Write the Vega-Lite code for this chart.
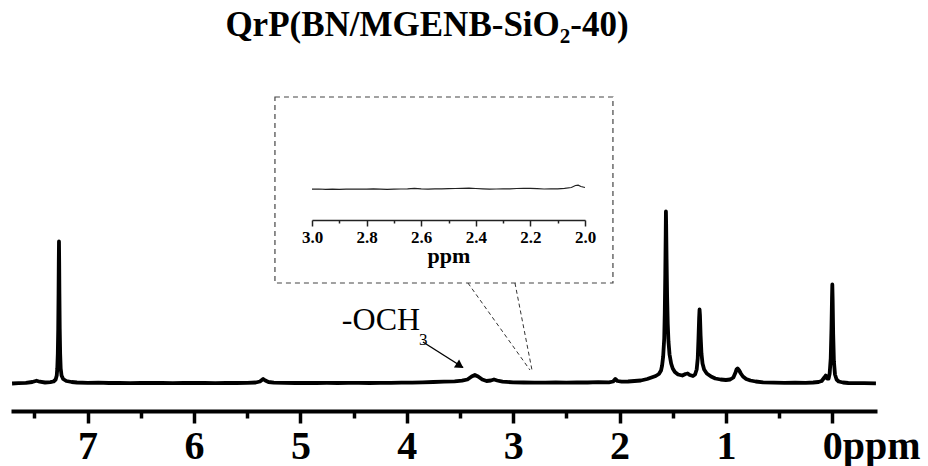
{
  "$schema": "https://vega.github.io/schema/vega-lite/v6.json",
  "width": 866,
  "height": 316,
  "autosize": "none",
  "padding": {"left": 11, "top": 95, "right": 51, "bottom": 55},
  "background": "white",
  "title": {
    "text": "QrP(BN/MGENB-SiO₂-40)",
    "font": "Liberation Serif",
    "fontSize": 35,
    "fontWeight": "bold",
    "color": "black",
    "anchor": "middle",
    "frame": "group",
    "dx": -17,
    "dy": -48
  },
  "config": {"view": {"stroke": null}},
  "datasets": {
    "spectrum": [
      {"ppm": 7.71, "i": 0.0}, {"ppm": 7.65, "i": 0.3}, {"ppm": 7.58, "i": 0.6}, {"ppm": 7.52, "i": 1.5},
      {"ppm": 7.48, "i": 2.8}, {"ppm": 7.45, "i": 1.8}, {"ppm": 7.40, "i": 1.0}, {"ppm": 7.35, "i": 1.3},
      {"ppm": 7.32, "i": 2.0}, {"ppm": 7.30, "i": 4.0}, {"ppm": 7.29, "i": 8}, {"ppm": 7.285, "i": 15},
      {"ppm": 7.28, "i": 30}, {"ppm": 7.276, "i": 55}, {"ppm": 7.273, "i": 90}, {"ppm": 7.271, "i": 120},
      {"ppm": 7.269, "i": 142}, {"ppm": 7.267, "i": 120}, {"ppm": 7.265, "i": 90}, {"ppm": 7.262, "i": 55},
      {"ppm": 7.258, "i": 30}, {"ppm": 7.253, "i": 15}, {"ppm": 7.245, "i": 8}, {"ppm": 7.23, "i": 4.5},
      {"ppm": 7.20, "i": 2.5}, {"ppm": 7.15, "i": 1.5}, {"ppm": 7.10, "i": 1.0}, {"ppm": 7.00, "i": 0.6},
      {"ppm": 6.90, "i": 0.8}, {"ppm": 6.80, "i": 0.5}, {"ppm": 6.70, "i": 0.7}, {"ppm": 6.60, "i": 0.4},
      {"ppm": 6.50, "i": 0.6}, {"ppm": 6.40, "i": 0.5}, {"ppm": 6.30, "i": 0.7}, {"ppm": 6.20, "i": 0.4},
      {"ppm": 6.10, "i": 0.6}, {"ppm": 6.00, "i": 0.5}, {"ppm": 5.90, "i": 0.7}, {"ppm": 5.80, "i": 0.4},
      {"ppm": 5.70, "i": 0.6}, {"ppm": 5.60, "i": 0.5}, {"ppm": 5.50, "i": 0.7}, {"ppm": 5.42, "i": 1.0},
      {"ppm": 5.38, "i": 2.0}, {"ppm": 5.35, "i": 4.5}, {"ppm": 5.33, "i": 3.0}, {"ppm": 5.30, "i": 1.5},
      {"ppm": 5.25, "i": 0.8}, {"ppm": 5.15, "i": 0.6}, {"ppm": 5.05, "i": 0.5}, {"ppm": 4.95, "i": 0.7},
      {"ppm": 4.85, "i": 0.5}, {"ppm": 4.75, "i": 0.6}, {"ppm": 4.65, "i": 0.5}, {"ppm": 4.55, "i": 0.7},
      {"ppm": 4.45, "i": 0.6}, {"ppm": 4.35, "i": 0.5}, {"ppm": 4.25, "i": 0.7}, {"ppm": 4.15, "i": 0.6},
      {"ppm": 4.05, "i": 0.8}, {"ppm": 3.95, "i": 0.9}, {"ppm": 3.85, "i": 1.2}, {"ppm": 3.75, "i": 1.5},
      {"ppm": 3.65, "i": 1.8}, {"ppm": 3.55, "i": 2.2}, {"ppm": 3.48, "i": 2.8}, {"ppm": 3.43, "i": 4.0},
      {"ppm": 3.39, "i": 7.0}, {"ppm": 3.36, "i": 8.5}, {"ppm": 3.33, "i": 7.0}, {"ppm": 3.29, "i": 4.0},
      {"ppm": 3.25, "i": 2.5}, {"ppm": 3.21, "i": 3.0}, {"ppm": 3.18, "i": 4.0}, {"ppm": 3.15, "i": 3.0},
      {"ppm": 3.10, "i": 1.8}, {"ppm": 3.00, "i": 1.2}, {"ppm": 2.90, "i": 1.0}, {"ppm": 2.80, "i": 0.8},
      {"ppm": 2.70, "i": 0.9}, {"ppm": 2.60, "i": 1.0}, {"ppm": 2.50, "i": 0.8}, {"ppm": 2.40, "i": 1.2},
      {"ppm": 2.30, "i": 1.0}, {"ppm": 2.20, "i": 1.3}, {"ppm": 2.10, "i": 1.2}, {"ppm": 2.06, "i": 2.0},
      {"ppm": 2.04, "i": 4.5}, {"ppm": 2.02, "i": 2.5}, {"ppm": 1.98, "i": 1.8}, {"ppm": 1.92, "i": 2.0},
      {"ppm": 1.86, "i": 2.5}, {"ppm": 1.80, "i": 3.0}, {"ppm": 1.74, "i": 4.5}, {"ppm": 1.70, "i": 6.0},
      {"ppm": 1.66, "i": 7.5}, {"ppm": 1.63, "i": 9.5}, {"ppm": 1.61, "i": 13}, {"ppm": 1.60, "i": 18},
      {"ppm": 1.59, "i": 27}, {"ppm": 1.58, "i": 45}, {"ppm": 1.575, "i": 70}, {"ppm": 1.570, "i": 110},
      {"ppm": 1.566, "i": 150}, {"ppm": 1.564, "i": 172}, {"ppm": 1.562, "i": 160}, {"ppm": 1.558, "i": 125},
      {"ppm": 1.553, "i": 88}, {"ppm": 1.547, "i": 60}, {"ppm": 1.540, "i": 42}, {"ppm": 1.530, "i": 29},
      {"ppm": 1.515, "i": 20}, {"ppm": 1.50, "i": 15}, {"ppm": 1.48, "i": 11.5}, {"ppm": 1.45, "i": 9},
      {"ppm": 1.41, "i": 8}, {"ppm": 1.38, "i": 9.5}, {"ppm": 1.36, "i": 10}, {"ppm": 1.34, "i": 8.5},
      {"ppm": 1.31, "i": 7.5}, {"ppm": 1.29, "i": 9}, {"ppm": 1.275, "i": 14}, {"ppm": 1.265, "i": 25},
      {"ppm": 1.258, "i": 45}, {"ppm": 1.252, "i": 65}, {"ppm": 1.248, "i": 74}, {"ppm": 1.244, "i": 68},
      {"ppm": 1.238, "i": 48}, {"ppm": 1.230, "i": 30}, {"ppm": 1.220, "i": 20}, {"ppm": 1.205, "i": 14},
      {"ppm": 1.18, "i": 10}, {"ppm": 1.14, "i": 7}, {"ppm": 1.10, "i": 5}, {"ppm": 1.05, "i": 4},
      {"ppm": 1.00, "i": 3.5}, {"ppm": 0.96, "i": 4}, {"ppm": 0.93, "i": 6}, {"ppm": 0.91, "i": 11},
      {"ppm": 0.90, "i": 14}, {"ppm": 0.89, "i": 15}, {"ppm": 0.875, "i": 13}, {"ppm": 0.86, "i": 10},
      {"ppm": 0.84, "i": 7}, {"ppm": 0.81, "i": 4.5}, {"ppm": 0.77, "i": 3}, {"ppm": 0.72, "i": 2},
      {"ppm": 0.65, "i": 1.2}, {"ppm": 0.55, "i": 0.8}, {"ppm": 0.45, "i": 0.6}, {"ppm": 0.35, "i": 0.8},
      {"ppm": 0.25, "i": 0.6}, {"ppm": 0.18, "i": 1.0}, {"ppm": 0.13, "i": 1.5}, {"ppm": 0.10, "i": 2.5},
      {"ppm": 0.075, "i": 6}, {"ppm": 0.062, "i": 8}, {"ppm": 0.05, "i": 5}, {"ppm": 0.035, "i": 5},
      {"ppm": 0.025, "i": 10}, {"ppm": 0.015, "i": 25}, {"ppm": 0.008, "i": 55}, {"ppm": 0.003, "i": 85},
      {"ppm": 0.0, "i": 99}, {"ppm": -0.003, "i": 85}, {"ppm": -0.008, "i": 50}, {"ppm": -0.015, "i": 22},
      {"ppm": -0.025, "i": 9}, {"ppm": -0.04, "i": 4}, {"ppm": -0.06, "i": 2}, {"ppm": -0.10, "i": 1.0},
      {"ppm": -0.15, "i": 0.5}, {"ppm": -0.22, "i": 0.3}, {"ppm": -0.30, "i": 0.4}, {"ppm": -0.41, "i": 0.2}
    ],
    "inset": [
      {"ppm": 3.000, "i": 0.8}, {"ppm": 2.975, "i": 1.0}, {"ppm": 2.950, "i": 0.7}, {"ppm": 2.925, "i": 0.9},
      {"ppm": 2.900, "i": 0.6}, {"ppm": 2.875, "i": 0.8}, {"ppm": 2.850, "i": 0.9}, {"ppm": 2.825, "i": 1.0},
      {"ppm": 2.800, "i": 0.8}, {"ppm": 2.775, "i": 1.1}, {"ppm": 2.750, "i": 0.9}, {"ppm": 2.725, "i": 0.7},
      {"ppm": 2.700, "i": 0.8}, {"ppm": 2.675, "i": 1.0}, {"ppm": 2.650, "i": 1.2}, {"ppm": 2.625, "i": 1.6},
      {"ppm": 2.600, "i": 1.1}, {"ppm": 2.575, "i": 0.9}, {"ppm": 2.550, "i": 1.1}, {"ppm": 2.525, "i": 1.2},
      {"ppm": 2.500, "i": 1.3}, {"ppm": 2.475, "i": 1.5}, {"ppm": 2.450, "i": 1.7}, {"ppm": 2.425, "i": 1.9},
      {"ppm": 2.400, "i": 1.5}, {"ppm": 2.375, "i": 1.2}, {"ppm": 2.350, "i": 0.9}, {"ppm": 2.325, "i": 1.0},
      {"ppm": 2.300, "i": 1.1}, {"ppm": 2.275, "i": 1.2}, {"ppm": 2.250, "i": 1.5}, {"ppm": 2.225, "i": 1.7},
      {"ppm": 2.200, "i": 1.6}, {"ppm": 2.175, "i": 1.3}, {"ppm": 2.150, "i": 1.0}, {"ppm": 2.125, "i": 1.1},
      {"ppm": 2.100, "i": 1.2}, {"ppm": 2.075, "i": 1.6}, {"ppm": 2.050, "i": 2.5}, {"ppm": 2.035, "i": 4.5},
      {"ppm": 2.025, "i": 4.8}, {"ppm": 2.015, "i": 3.5}, {"ppm": 2.000, "i": 2.5}
    ],
    "box": [{"x1": 5.239, "x2": 2.062, "y1": 100.5, "y2": 286.5}],
    "connectors": [
      {"xa": 3.425, "ya": 100.5, "xb": 2.842, "yb": 13.5},
      {"xa": 2.983, "ya": 100.5, "xb": 2.823, "yb": 13.5}
    ],
    "arrow": [{"xa": 3.848, "ya": 41.5, "xb": 3.47, "yb": 16.0}],
    "arrowhead": [{"x": 3.50, "y": 17.7}],
    "labels": [
      {"x": 4.61, "y": 53.5, "t": "-OCH", "s": "main"},
      {"x": 3.885, "y": 38.5, "t": "3", "s": "sub"}
    ]
  },
  "layer": [
    {
      "layer": [
        {
          "data": {"name": "spectrum"},
          "mark": {"type": "line", "color": "black", "strokeWidth": 3.8, "strokeJoin": "round", "interpolate": "linear"},
          "encoding": {
            "x": {
              "field": "ppm", "type": "quantitative",
              "scale": {"domain": [7.72, -0.42], "nice": false, "zero": false},
              "axis": {
                "title": null,
                "values": [7.5, 7, 6.5, 6, 5.5, 5, 4.5, 4, 3.5, 3, 2.5, 2, 1.5, 1, 0.5, 0],
                "labelExpr": "datum.value % 1 === 0 ? (datum.value === 0 ? '0ppm' : format(datum.value, 'd')) : ''",
                "labelFont": "Liberation Serif",
                "labelFontSize": 40,
                "labelFontWeight": "bold",
                "labelColor": "black",
                "labelPadding": 3,
                "labelFlush": false,
                "labelOverlap": false,
                "labelBound": false,
                "labelAlign": {"condition": {"test": "datum.value === 0", "value": "left"}, "value": "center"},
                "labelOffset": {"condition": {"test": "datum.value === 0", "value": -10}, "value": 0},
                "tickSize": {"condition": {"test": "datum.value % 1 === 0", "value": 12}, "value": 7},
                "tickWidth": 3.5,
                "tickColor": "black",
                "domainColor": "black",
                "domainWidth": 4,
                "grid": false
              }
            },
            "y": {"field": "i", "type": "quantitative", "scale": {"domain": [-27.5, 288.5], "nice": false, "zero": false}, "axis": null}
          }
        },
        {
          "data": {"name": "box"},
          "mark": {"type": "rect", "fill": null, "fillOpacity": 0, "stroke": "#444444", "strokeWidth": 1.2, "strokeDash": [5, 4]},
          "encoding": {
            "x": {"field": "x1", "type": "quantitative", "scale": {"domain": [7.72, -0.42], "nice": false, "zero": false}},
            "x2": {"field": "x2"},
            "y": {"field": "y1", "type": "quantitative", "scale": {"domain": [-27.5, 288.5], "nice": false, "zero": false}, "axis": null},
            "y2": {"field": "y2"}
          }
        },
        {
          "data": {"name": "connectors"},
          "mark": {"type": "rule", "stroke": "#333333", "strokeWidth": 1, "strokeDash": [4, 3]},
          "encoding": {
            "x": {"field": "xa", "type": "quantitative", "scale": {"domain": [7.72, -0.42], "nice": false, "zero": false}},
            "x2": {"field": "xb"},
            "y": {"field": "ya", "type": "quantitative", "scale": {"domain": [-27.5, 288.5], "nice": false, "zero": false}, "axis": null},
            "y2": {"field": "yb"}
          }
        },
        {
          "data": {"name": "arrow"},
          "mark": {"type": "rule", "stroke": "black", "strokeWidth": 1.4},
          "encoding": {
            "x": {"field": "xa", "type": "quantitative", "scale": {"domain": [7.72, -0.42], "nice": false, "zero": false}},
            "x2": {"field": "xb"},
            "y": {"field": "ya", "type": "quantitative", "scale": {"domain": [-27.5, 288.5], "nice": false, "zero": false}, "axis": null},
            "y2": {"field": "yb"}
          }
        },
        {
          "data": {"name": "arrowhead"},
          "mark": {"type": "point", "shape": "triangle-right", "filled": true, "color": "black", "size": 90, "angle": 33, "opacity": 1},
          "encoding": {
            "x": {"field": "x", "type": "quantitative", "scale": {"domain": [7.72, -0.42], "nice": false, "zero": false}},
            "y": {"field": "y", "type": "quantitative", "scale": {"domain": [-27.5, 288.5], "nice": false, "zero": false}, "axis": null}
          }
        },
        {
          "data": {"name": "labels"},
          "mark": {"type": "text", "font": "Liberation Serif", "align": "left", "baseline": "alphabetic", "color": "black"},
          "encoding": {
            "x": {"field": "x", "type": "quantitative", "scale": {"domain": [7.72, -0.42], "nice": false, "zero": false}},
            "y": {"field": "y", "type": "quantitative", "scale": {"domain": [-27.5, 288.5], "nice": false, "zero": false}, "axis": null},
            "text": {"field": "t"},
            "size": {"field": "s", "type": "nominal", "scale": {"domain": ["main", "sub"], "range": [32, 17]}, "legend": null}
          }
        }
      ]
    },
    {
      "data": {"name": "inset"},
      "mark": {"type": "line", "color": "#222222", "strokeWidth": 1.2},
      "encoding": {
        "x": {
          "field": "ppm", "type": "quantitative",
          "scale": {"domain": [2.0, 3.0], "range": [574, 301], "nice": false, "zero": false},
          "axis": {
            "orient": "bottom",
            "offset": -191,
            "title": "ppm",
            "titleFont": "Liberation Serif",
            "titleFontSize": 22,
            "titleFontWeight": "bold",
            "titleColor": "black",
            "titlePadding": 0,
            "values": [3.0, 2.9, 2.8, 2.7, 2.6, 2.5, 2.4, 2.3, 2.2, 2.1, 2.0],
            "labelExpr": "round(datum.value * 10) % 2 === 0 ? format(datum.value, '.1f') : ''",
            "labelFont": "Liberation Serif",
            "labelFontSize": 17,
            "labelFontWeight": "bold",
            "labelColor": "black",
            "labelPadding": 3,
            "labelFlush": false,
            "labelOverlap": false,
            "tickSize": {"condition": {"test": "round(datum.value * 10) % 2 === 0", "value": 6}, "value": 3},
            "tickWidth": 1.5,
            "tickColor": "#222222",
            "domainColor": "#222222",
            "domainWidth": 1.5,
            "grid": false
          }
        },
        "y": {"field": "i", "type": "quantitative", "scale": {"domain": [0, 10], "range": [95, 85], "nice": false, "zero": false}, "axis": null}
      }
    }
  ],
  "resolve": {"scale": {"x": "independent", "y": "independent", "size": "independent"}, "axis": {"x": "independent"}}
}
